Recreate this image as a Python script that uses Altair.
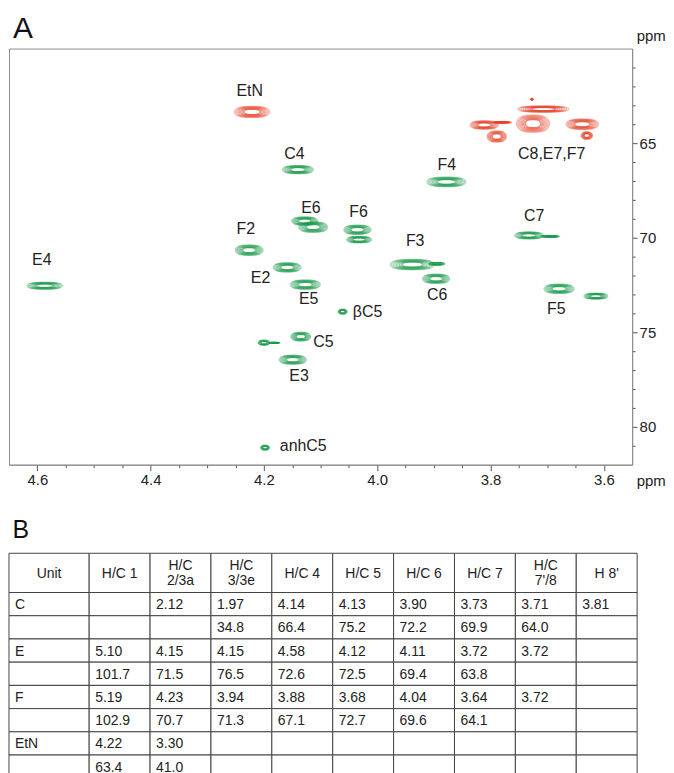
import math
import altair as alt
import pandas as pd

FONT = "Liberation Sans"
GREEN = "#1b9a4b"
RED = "#e5432a"

# ---------------- Panel A: 1H-13C HSQC cross-peaks ----------------
peak_id = ["EtN", "H8'", "C8b", "E7C8", "E7up", "E7dot", "F7", "H8link", "F7tail",
           "C4", "F4", "E6a", "E6b", "F6a", "F6b", "C7", "C7tail", "F2", "E2", "E4",
           "E5", "F3", "F3tail", "C6", "F5", "U1", "bC5", "C5", "U2", "U2tail", "E3", "anhC5"]
peak_h = [4.221, 3.811, 3.789, 3.725, 3.707, 3.727, 3.638, 3.780, 3.630,
          4.140, 3.878, 4.128, 4.113, 4.035, 4.032, 3.732, 3.695, 4.226, 4.159, 4.587,
          4.127, 3.938, 3.895, 3.896, 3.679, 3.614, 4.061, 4.135, 4.200, 4.182, 4.149, 4.198]
peak_c = [63.35, 64.04, 64.65, 63.97, 63.20, 62.68, 64.00, 63.90, 64.60,
          66.40, 67.05, 69.12, 69.44, 69.58, 70.10, 69.88, 69.93, 70.66, 71.57, 72.54,
          72.48, 71.42, 71.38, 72.17, 72.70, 73.09, 73.91, 75.23, 75.55, 75.56, 76.45, 81.10]
# full extent of the outermost contour, along 1H and 13C (ppm)
peak_wh = [0.062, 0.050, 0.034, 0.058, 0.090, 0.005, 0.057, 0.035, 0.020,
           0.055, 0.069, 0.046, 0.051, 0.048, 0.044, 0.051, 0.035, 0.049, 0.049, 0.063,
           0.053, 0.078, 0.030, 0.048, 0.053, 0.042, 0.016, 0.035, 0.021, 0.022, 0.048, 0.016]
peak_wc = [0.60, 0.45, 0.60, 0.92, 0.34, 0.10, 0.56, 0.10, 0.40,
           0.44, 0.52, 0.45, 0.56, 0.50, 0.35, 0.38, 0.10, 0.56, 0.50, 0.38,
           0.50, 0.56, 0.15, 0.50, 0.50, 0.32, 0.27, 0.47, 0.28, 0.07, 0.49, 0.27]
peak_phase = ["neg"] * 9 + ["pos"] * 23

# peak labels
lab_text = ["EtN", "C4", "C8,E7,F7", "F4", "E6", "F6", "F2", "C7", "F3",
            "E4", "E2", "E5", "C6", "F5", "E3"]
lab_h = [4.225, 4.146, 3.692, 3.877, 4.117, 4.033, 4.232, 3.723, 3.933,
         4.592, 4.206, 4.121, 3.894, 3.684, 4.138]
lab_c = [62.24, 65.56, 65.58, 66.18, 68.45, 68.63, 69.54, 68.87, 70.17,
         71.19, 72.14, 73.25, 73.05, 73.76, 77.33]
lab2_text = ["βC5", "C5", "anhC5"]
lab2_h = [4.043, 4.113, 4.172]
lab2_c = [73.91, 75.51, 81.03]

x_ticks = [3.60, 3.65, 3.70, 3.75, 3.80, 3.85, 3.90, 3.95, 4.00, 4.05, 4.10,
           4.15, 4.20, 4.25, 4.30, 4.35, 4.40, 4.45, 4.50, 4.55, 4.60]
y_ticks = [61, 62, 63, 64, 65, 66, 67, 68, 69, 70, 71, 72, 73, 74, 75, 76, 77, 78, 79, 80, 81]

# ---------------- Panel B: table ----------------
col_names = ["Unit", "H/C 1", "H/C\n2/3a", "H/C\n3/3e", "H/C 4", "H/C 5",
             "H/C 6", "H/C 7", "H/C\n7'/8", "H 8'"]
row_units = ["C", "", "E", "", "F", "", "EtN", ""]
C_H = ["", "2.12", "1.97", "4.14", "4.13", "3.90", "3.73", "3.71", "3.81"]
C_C = ["", "", "34.8", "66.4", "75.2", "72.2", "69.9", "64.0", ""]
E_H = ["5.10", "4.15", "4.15", "4.58", "4.12", "4.11", "3.72", "3.72", ""]
E_C = ["101.7", "71.5", "76.5", "72.6", "72.5", "69.4", "63.8", "", ""]
F_H = ["5.19", "4.23", "3.94", "3.88", "3.68", "4.04", "3.64", "3.72", ""]
F_C = ["102.9", "70.7", "71.3", "67.1", "72.7", "69.6", "64.1", "", ""]
EtN_H = ["4.22", "3.30", "", "", "", "", "", "", ""]
EtN_C = ["63.4", "41.0", "", "", "", "", "", "", ""]
body_rows = [C_H, C_C, E_H, E_C, F_H, F_C, EtN_H, EtN_C]

# ---------------- layout constants ----------------
PW, PH = 626, 418
H_DOM = [3.55, 4.65]
C_DOM = [60, 82]
px_h = PW / (H_DOM[1] - H_DOM[0])   # px per ppm (1H)
px_c = PH / (C_DOM[1] - C_DOM[0])   # px per ppm (13C)


def contour_path(aspect, n=32, p=2.5):
    """Closed rounded (super-elliptic) outline in the unit box, for a custom symbol."""
    pts = []
    for j in range(n):
        t = 2 * math.pi * j / n
        c, s = math.cos(t), math.sin(t)
        x = math.copysign(abs(c) ** (2 / p), c)
        y = aspect * math.copysign(abs(s) ** (2 / p), s)
        pts.append(f"{x:.4f},{y:.4f}")
    return "M" + " L".join(pts) + " Z"


# concentric contour levels drawn as outline symbols
levels = [1.0, 0.93, 0.86, 0.79, 0.72, 0.65, 0.58, 0.51, 0.45]
rows = []
for i in range(len(peak_id)):
    w_px = peak_wh[i] * px_h
    h_px = peak_wc[i] * px_c
    shp = contour_path(h_px / w_px)
    for k, f in enumerate(levels):
        rows.append(dict(pid=peak_id[i], phase=peak_phase[i], level=k,
                         x=peak_h[i], y=peak_c[i], size=(w_px * f) ** 2, shp=shp))
contour_df = pd.DataFrame(rows)
lab_df = pd.DataFrame(dict(t=lab_text, x=lab_h, y=lab_c))
lab2_df = pd.DataFrame(dict(t=lab2_text, x=lab2_h, y=lab2_c))

major_x = "abs(datum.value*5 - round(datum.value*5)) < 0.001"
major_y = "datum.value % 5 == 0"

x_axis = alt.Axis(values=x_ticks, grid=False,
                  labelExpr=f"{major_x} ? format(datum.value, '.1f') : ''",
                  tickSize={"condition": {"test": major_x, "value": 6}, "value": 3},
                  labelPadding=2, labelFontSize=15, labelFont=FONT, labelColor="#222",
                  labelOverlap=False, labelFlush=False,
                  domainColor="#8c8c8c", tickColor="#555",
                  title="ppm", titleX=630, titleY=21, titleAlign="left",
                  titleBaseline="alphabetic", titleFontSize=15, titleFont=FONT,
                  titleFontWeight="normal", titleColor="#222")
y_axis = alt.Axis(orient="right", values=y_ticks, grid=False,
                  labelExpr=f"{major_y} ? datum.label : ''",
                  tickSize={"condition": {"test": major_y, "value": 5}, "value": 3},
                  labelPadding=2, labelFontSize=15, labelFont=FONT, labelColor="#222",
                  labelOverlap=False, labelFlush=False,
                  domainColor="#8c8c8c", tickColor="#555",
                  title="ppm", titleAngle=0, titleX=4, titleY=-8, titleAlign="left",
                  titleBaseline="alphabetic", titleFontSize=15, titleFont=FONT,
                  titleFontWeight="normal", titleColor="#222")

xs = alt.Scale(domain=H_DOM, reverse=True, nice=False, zero=False)
ys = alt.Scale(domain=C_DOM, reverse=True, nice=False, zero=False)

contours = alt.Chart(contour_df).mark_point(filled=False, strokeWidth=0.7, opacity=1).encode(
    x=alt.X("x:Q", scale=xs, axis=x_axis),
    y=alt.Y("y:Q", scale=ys, axis=y_axis),
    shape=alt.Shape("shp:N", scale=None, legend=None),
    size=alt.Size("size:Q", scale=None, legend=None),
    color=alt.Color("phase:N", scale=alt.Scale(domain=["pos", "neg"], range=[GREEN, RED]), legend=None),
    strokeOpacity=alt.StrokeOpacity("level:Q", scale=alt.Scale(domain=[0, 8], range=[0.6, 1.0]), legend=None),
)

labels_c = alt.Chart(lab_df).mark_text(font=FONT, fontSize=16, color="#222", baseline="middle", align="center").encode(
    x=alt.X("x:Q", scale=xs, axis=x_axis), y=alt.Y("y:Q", scale=ys, axis=y_axis), text="t:N")
labels_l = alt.Chart(lab2_df).mark_text(font=FONT, fontSize=16, color="#222", baseline="middle", align="left").encode(
    x=alt.X("x:Q", scale=xs, axis=x_axis), y=alt.Y("y:Q", scale=ys, axis=y_axis), text="t:N")

panelA = alt.layer(contours, labels_c, labels_l).properties(
    width=PW, height=PH,
    title=alt.Title("A", anchor="start", fontSize=30, fontWeight="normal", font=FONT,
                    color="#111", offset=-15, dx=4),
)

# ---------------- table geometry ----------------
col_w = [1.317] + [1.0] * 9
head_h = 1.69
cells = []
x0 = 0.0
for ci, name in enumerate(col_names):
    x1 = x0 + col_w[ci]
    cells.append(dict(x0=x0, x1=x1, y0=0.0, y1=head_h, t=name, kind="head"))
    for ri in range(8):
        t = row_units[ri] if ci == 0 else body_rows[ri][ci - 1]
        cells.append(dict(x0=x0, x1=x1, y0=head_h + ri, y1=head_h + ri + 1, t=t, kind="body"))
    x0 = x1
cell_df = pd.DataFrame(cells)
cell_df["xc"] = (cell_df.x0 + cell_df.x1) / 2
cell_df["yc"] = (cell_df.y0 + cell_df.y1) / 2
total_w = sum(col_w)
total_h = head_h + 8

tx = alt.Scale(domain=[0, total_w], nice=False, zero=False)
ty = alt.Scale(domain=[0, total_h], reverse=True, nice=False, zero=False)

grid = alt.Chart(cell_df).mark_rect(fill="white", stroke="#444", strokeWidth=1).encode(
    x=alt.X("x0:Q", scale=tx, axis=None), x2="x1:Q",
    y=alt.Y("y0:Q", scale=ty, axis=None), y2="y1:Q")
head1_txt = alt.Chart(cell_df).transform_filter(
    "datum.kind == 'head' && indexof(datum.t, '\\n') < 0").mark_text(
    font=FONT, fontSize=14, color="#222", align="center", baseline="middle", dy=1
).encode(x=alt.X("xc:Q", scale=tx, axis=None), y=alt.Y("yc:Q", scale=ty, axis=None), text="t:N")
head2_txt = alt.Chart(cell_df).transform_filter(
    "datum.kind == 'head' && indexof(datum.t, '\\n') >= 0").mark_text(
    font=FONT, fontSize=14, color="#222", align="center", baseline="middle",
    lineBreak="\n", lineHeight=14.5, dy=-6.5
).encode(x=alt.X("xc:Q", scale=tx, axis=None), y=alt.Y("yc:Q", scale=ty, axis=None), text="t:N")
body_txt = alt.Chart(cell_df).transform_filter("datum.kind == 'body'").mark_text(
    font=FONT, fontSize=14, color="#222", align="left", baseline="middle", dx=6, dy=1
).encode(x=alt.X("x0:Q", scale=tx, axis=None), y=alt.Y("yc:Q", scale=ty, axis=None), text="t:N")

table = alt.layer(grid, head1_txt, head2_txt, body_txt).properties(
    width=631, height=226,
    view=alt.ViewBackground(stroke=None),
    title=alt.Title("B", anchor="start", fontSize=25, fontWeight="normal", font=FONT,
                    color="#111", offset=10, dx=4),
)

chart = alt.vconcat(panelA, table, spacing=28).properties(
    padding={"left": 0, "top": 3, "right": 0, "bottom": 0}
).configure_view(stroke="#8c8c8c", strokeWidth=1)

chart.save("out.html", embed_options={"renderer": "svg", "actions": False})
